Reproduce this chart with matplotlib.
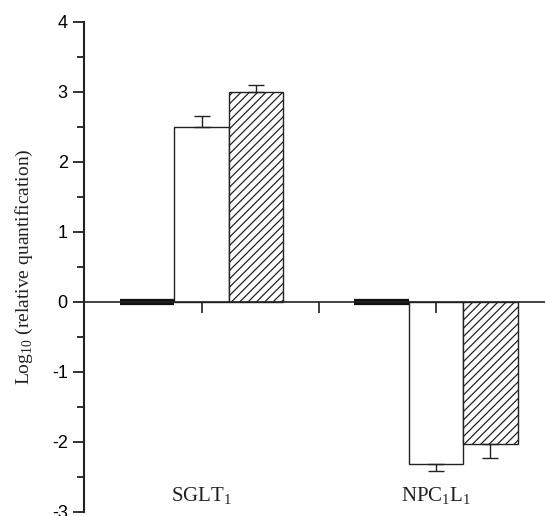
import matplotlib.pyplot as plt
import numpy as np

genes = ["SGLT$_1$", "NPC$_1$L$_1$"]
control = [0.0, 0.0]
treat_a = [2.50, -2.32]
treat_a_err = [0.15, 0.10]
treat_b = [3.00, -2.03]
treat_b_err = [0.10, 0.20]

plt.rcParams['hatch.linewidth'] = 0.9
plt.rcParams['axes.unicode_minus'] = False
plt.rcParams['mathtext.fontset'] = 'custom'
plt.rcParams['mathtext.rm'] = 'Liberation Serif'

fig = plt.figure(figsize=(5.45, 5.16), dpi=100)
ax = fig.add_axes([0.155, 0.0078, 0.86, 0.9496])

x = np.array([1.0, 2.0])
w = 0.232

ax.bar(x - w, control, w, color='black', edgecolor='#111111', linewidth=4.5)
ax.bar(x, treat_a, w, color='white', edgecolor='#222222', linewidth=1.0)
ax.bar(x + w, treat_b, w, color='white', edgecolor='#222222', linewidth=1.0, hatch='////')

# one-sided error bars
lo_a = [0 if v > 0 else e for v, e in zip(treat_a, treat_a_err)]
hi_a = [e if v > 0 else 0 for v, e in zip(treat_a, treat_a_err)]
lo_b = [0 if v > 0 else e for v, e in zip(treat_b, treat_b_err)]
hi_b = [e if v > 0 else 0 for v, e in zip(treat_b, treat_b_err)]
ax.errorbar(x, treat_a, yerr=[lo_a, hi_a], fmt='none', ecolor='#222222',
            elinewidth=1.0, capsize=6, capthick=1.0)
ax.errorbar(x + w, treat_b, yerr=[lo_b, hi_b], fmt='none', ecolor='#222222',
            elinewidth=1.0, capsize=6, capthick=1.0)

ax.set_xlim(0.5, 2.5)
ax.set_ylim(-3, 4)

ax.spines['top'].set_visible(False)
ax.spines['right'].set_visible(False)
ax.spines['bottom'].set_position(('data', 0))
ax.spines['left'].set_linewidth(1.5)
ax.spines['bottom'].set_linewidth(1.2)
ax.spines['left'].set_color('#222222')
ax.spines['bottom'].set_color('#222222')

ax.set_xticks([1.0, 1.5, 2.0])
ax.set_xticklabels([])
ax.tick_params(axis='x', direction='out', length=8, width=1.2, color='#222222')

ax.set_yticks(range(-3, 5))
ax.set_yticks(np.arange(-3, 4.01, 0.5), minor=True)
ax.tick_params(axis='y', which='major', direction='out', length=8, width=1.3,
               color='#222222', labelsize=13, pad=4)
ax.tick_params(axis='y', which='minor', direction='out', length=5, width=1.3,
               color='#222222')
for lab in ax.get_yticklabels():
    lab.set_fontfamily('Liberation Sans')

for xi, g in zip(x, genes):
    ax.text(xi, -2.78, g, ha='center', va='center', fontsize=15,
            family='Liberation Serif', color='#222222')

ax.set_ylabel("Log$_{10}$ (relative quantification)", fontsize=14,
              family='Liberation Serif', color='#222222', labelpad=12)

fig.savefig('out.png', dpi=100)
